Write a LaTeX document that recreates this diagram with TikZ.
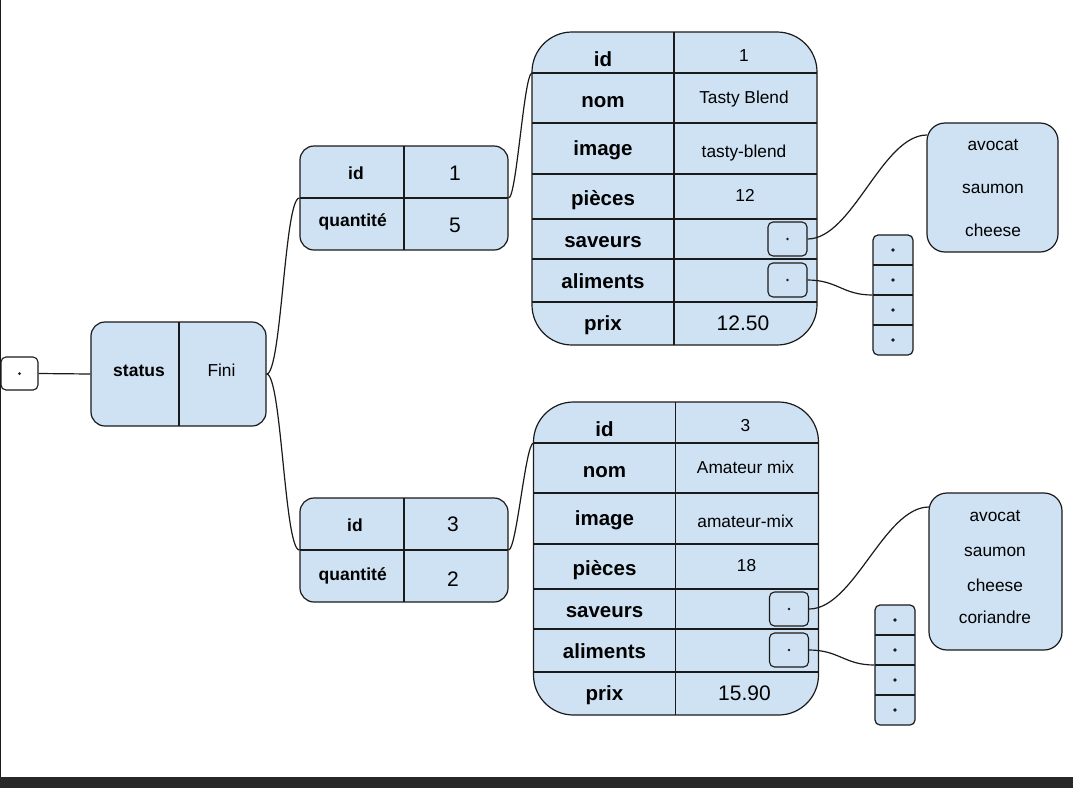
\documentclass[tikz,border=0pt]{standalone}
\usepackage{fontspec}
\setmainfont{Liberation Sans}
\definecolor{cell}{HTML}{CFE2F3}
\definecolor{ink}{HTML}{1A1A1A}
\definecolor{barc}{HTML}{282828}
\tikzset{
  box/.style={draw=ink, fill=cell, line width=1.2pt, inner sep=0pt},
  ptrbox/.style={draw=ink, line width=1.1pt, rounded corners=5pt, inner sep=0pt},
  pdot/.style={circle, fill=ink, inner sep=0pt, minimum size=#1},
  pdot/.default=2.6pt,
  lbl/.style={font=\bfseries\fontsize{20.5}{24}\selectfont, inner sep=0pt, anchor=base},
  slbl/.style={font=\bfseries\fontsize{17.5}{20}\selectfont, inner sep=0pt, anchor=base},
  val/.style={font=\fontsize{17.3}{20}\selectfont, inner sep=0pt, anchor=base},
  bigval/.style={font=\fontsize{21}{24}\selectfont, inner sep=0pt, anchor=base},
  wire/.style={draw=ink, line width=1.2pt},
  sep/.style={draw=ink, line width=1.1pt}
}
\newcommand\BigTable[8]{%
\begin{scope}[shift={(#2,#3)}]
  \node[box, rounded corners=40pt, minimum width=285pt, minimum height=313pt] (#1) at (674.5,188.5) {};
  \draw[sep] (674,32) -- (674,345);
  \foreach \yy in {73,123,174,219,259,302} \draw[sep] (532,\yy) -- (817,\yy);
  \coordinate (#1-in) at (532,73);
  \node[lbl] (#1-lid) at (603,66.7) {id};
  \node[lbl] (#1-lnom) at (603,107) {nom};
  \node[lbl] (#1-limg) at (603,155) {image};
  \node[lbl] (#1-lpc) at (603,205) {pièces};
  \node[lbl] (#1-lsav) at (603,247.7) {saveurs};
  \node[lbl] (#1-lali) at (603,288) {aliments};
  \node[lbl] (#1-lprix) at (603,330) {prix};
  \node[val] (#1-vid) at (744,61.7) {#4};
  \node[val] (#1-vnom) at (744,103) {#5};
  \node[val] (#1-vimg) at (744,157) {#6};
  \node[val] (#1-vpc) at (745,201.7) {#7};
  \node[bigval] (#1-vprix) at (743,330.7) {#8};
  \node[ptrbox, fill=cell, minimum width=39pt, minimum height=34pt] (#1-sav) at (787.5,239) {};
  \node[pdot] (#1-savd) at (#1-sav) {};
  \node[ptrbox, fill=cell, minimum width=39pt, minimum height=34pt] (#1-ali) at (787.5,280) {};
  \node[pdot] (#1-alid) at (#1-ali) {};
\end{scope}}
\begin{document}
\begin{tikzpicture}[x=1pt,y=-1pt]
\useasboundingbox (0,0) rectangle (1073,788);
\fill[white] (0,0) rectangle (1073,788);
\fill[barc] (0,777) rectangle (1073,788);
\draw[ink, line width=1.3pt] (0.65,0) -- (0.65,777);

% root pointer
\node[ptrbox, fill=white, minimum width=37pt, minimum height=33pt] (root) at (19.5,373.5) {};
\node[pdot=3pt] (rootd) at (root) {};

% status
\node[box, rounded corners=14pt, minimum width=175pt, minimum height=104pt] (status) at (178.5,374) {};
\draw[sep] (179,322) -- (179,426);
\node[slbl] (stl) at (139,376.7) {status};
\node[val] (stv) at (221.5,376.7) {Fini};

% small tables
\node[box, rounded corners=14pt, minimum width=208pt, minimum height=104pt] (t1) at (404,198) {};
\draw[sep] (404,146) -- (404,250);
\draw[sep] (300,198) -- (508,198);
\node[slbl] (t1lid) at (356,179) {id};
\node[bigval] (t1vid) at (455,180) {1};
\node[slbl] (t1lq) at (352.7,226.7) {quantité};
\node[bigval] (t1vq) at (455,232.7) {5};

\node[box, rounded corners=14pt, minimum width=208pt, minimum height=104pt] (t2) at (404,550) {};
\draw[sep] (404,498) -- (404,602);
\draw[sep] (300,550) -- (508,550);
\node[slbl] (t2lid) at (355,531.7) {id};
\node[bigval] (t2vid) at (453,531.7) {3};
\node[slbl] (t2lq) at (352.7,580) {quantité};
\node[bigval] (t2vq) at (453,586) {2};

% big tables
\BigTable{A}{0}{0}{1}{Tasty Blend}{tasty-blend}{12}{12.50}
\BigTable{B}{1.5}{370}{3}{Amateur mix}{amateur-mix}{18}{15.90}

% saveurs lists
\node[box, rounded corners=18pt, minimum width=131pt, minimum height=129pt] (avA) at (992.5,187.5) {};
\coordinate (avA-in) at (927,135);
\node[val] (avA1) at (993,150) {avocat};
\node[val] (avA2) at (993,193) {saumon};
\node[val] (avA3) at (993,236.7) {cheese};

\node[box, rounded corners=18pt, minimum width=133pt, minimum height=157pt] (avB) at (995.5,571.5) {};
\coordinate (avB-in) at (929,507);
\node[val] (avB1) at (995,521.7) {avocat};
\node[val] (avB2) at (995,556) {saumon};
\node[val] (avB3) at (995,591.7) {cheese};
\node[val] (avB4) at (995,623.3) {coriandre};

% arrays
\node[box, rounded corners=5pt, minimum width=40pt, minimum height=120pt] (arA) at (893,295) {};
\foreach \yy in {265,295,325} \draw[sep] (873,\yy) -- (913,\yy);
\foreach \yy/\k in {250/1,280/2,310/3,340/4} \node[pdot=3.6pt] (arA\k) at (893,\yy) {};

\node[box, rounded corners=5pt, minimum width=40pt, minimum height=120pt] (arB) at (895,665) {};
\foreach \yy in {635,665,695} \draw[sep] (875,\yy) -- (915,\yy);
\foreach \yy/\k in {620/1,650/2,680/3,710/4} \node[pdot=3.6pt] (arB\k) at (895,\yy) {};

% connectors
\draw[wire] (root.east) -- (status.west);
\draw[wire] (status.east) .. controls +(15,0) and +(-15,0) .. (t1.west);
\draw[wire] (status.east) .. controls +(15,0) and +(-15,0) .. (t2.west);
\draw[wire] (t1.east) .. controls +(8,0) and +(-8,0) .. (A-in);
\draw[wire] (t2.east) .. controls +(8,0) and +(-8,0) .. (B-in);
\draw[wire] (A-sav.east) .. controls +(45,0) and +(-45,0) .. (avA-in);
\draw[wire] (B-sav.east) .. controls +(45,0) and +(-45,0) .. (avB-in);
\draw[wire] (A-ali.east) .. controls +(30,0) and +(-30,0) .. (arA.west);
\draw[wire] (B-ali.east) .. controls +(30,0) and +(-30,0) .. (arB.west);
\end{tikzpicture}
\end{document}
